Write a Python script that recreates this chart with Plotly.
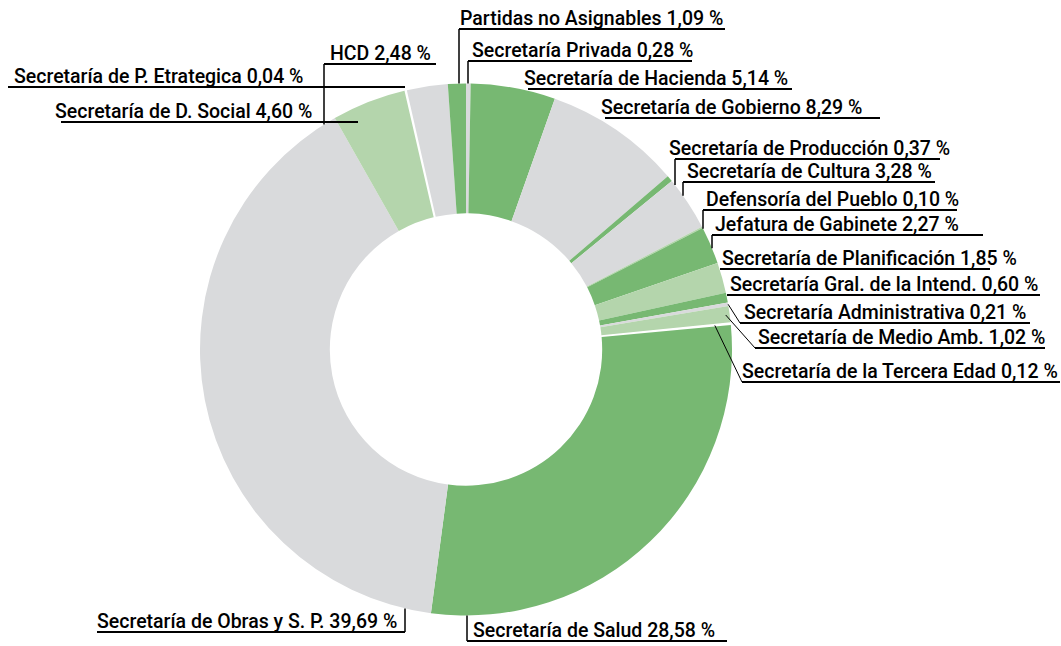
import math
import plotly.graph_objects as go

# ---------------- data ----------------
labels = [
    "Secretaría Privada", "Secretaría de Hacienda", "Secretaría de Gobierno",
    "Secretaría de Producción", "Secretaría de Cultura", "Defensoría del Pueblo",
    "Jefatura de Gabinete", "Secretaría de Planificación", "Secretaría Gral. de la Intend.",
    "Secretaría Administrativa", "Secretaría de Medio Amb.", "Secretaría de la Tercera Edad",
    "Secretaría de Salud", "Secretaría de Obras y S. P.", "Secretaría de D. Social",
    "Secretaría de P. Etrategica", "HCD", "Partidas no Asignables",
]
values = [0.28, 5.14, 8.29, 0.37, 3.28, 0.10, 2.27, 1.85, 0.60,
          0.21, 1.02, 0.12, 28.58, 39.69, 4.60, 0.04, 2.48, 1.09]

# ---------------- styles ----------------
GREEN, LIGHT, GRAY, WHITE = "#77b872", "#b4d5ac", "#d9dadc", "#ffffff"
colors = [GRAY, GREEN, GRAY, GREEN, GRAY, LIGHT, GREEN, LIGHT, GREEN,
          GRAY, LIGHT, WHITE, GREEN, GRAY, LIGHT, WHITE, GRAY, GREEN]
line_w = [0, 0, 0, 0, 0, 0, 0, 0, 0, 0, 0, 1.5, 0, 0, 0, 3.5, 0, 0]

W, H = 1061, 646
CX, CY, R = 466.0, 349.5, 266.0
HOLE = 0.512

# label layout (pixels): text left x, underline y, underline x0, x1, leader kind, leader radius
label_layout = [
    (471, 61, 468, 692, "v", 0),
    (523, 89, 528, 792, None, 0),
    (600, 118, 605, 880, None, 0),
    (668, 159, 675, 940, "v", 0),
    (686, 182, 683, 935, "v", 0),
    (705, 210, 703, 957, "v", 0),
    (714, 235, 712, 983, "v", 0),
    (721, 269, 720, 990, None, 0),
    (729, 295, 727, 1040, None, 0),
    (743, 323, 740, 1030, "p", 266),
    (757, 348, 755, 1045, "p", 262),
    (741, 382, 742, 1060, "p", 250),
    (472, 641, 467, 727, "v", 0),
    (96, 632, 97, 405, "v", 0),
    (54, 122, 61, 358, None, 0),
    (13, 87, 8, 405, None, 0),
    (329, 64, 324, 436, "v", 0),
    (459, 29, 459, 725, "v", 0),
]

FONT = dict(family="Roboto, Liberation Sans, sans-serif", size=19.5, color="#000000", weight=500)


def px(x):
    return x / W


def py(y):
    return 1 - y / H


fig = go.Figure(go.Pie(
    labels=labels, values=values, sort=False, direction="clockwise", rotation=0,
    hole=HOLE, textinfo="none", hoverinfo="none",
    marker=dict(colors=colors, line=dict(color=WHITE, width=line_w)),
    domain=dict(x=[px(CX - R), px(CX + R)], y=[py(CY + R), py(CY - R)]),
    showlegend=False,
))

total = sum(values)
cum = 0.0
shapes, annotations = [], []
for lab, v, (tx, uy, x0, x1, kind, lr) in zip(labels, values, label_layout):
    mid = (cum + v / 2) / total * 2 * math.pi
    cum += v
    num = f"{v:.2f}".replace(".", ",")
    txt = f"{lab} {num} %"
    annotations.append(dict(text=txt, x=px(tx), y=py(uy + 2), xref="paper", yref="paper",
                            xanchor="left", yanchor="bottom", showarrow=False,
                            font=FONT, borderpad=0))
    shapes.append(dict(type="line", xref="paper", yref="paper", x0=px(x0), x1=px(x1),
                       y0=py(uy), y1=py(uy), line=dict(color="black", width=2)))
    if kind == "v":
        xv = x0 if lab != "Secretaría de Obras y S. P." else x1
        dy = math.sqrt(max(R * R - (xv - CX) ** 2, 0))
        yc = CY - dy if uy < CY else CY + dy
        shapes.append(dict(type="line", xref="paper", yref="paper", x0=px(xv), x1=px(xv),
                           y0=py(uy), y1=py(yc), line=dict(color="black", width=1.5)))
    elif kind == "p":
        ex = CX + lr * math.sin(mid)
        ey = CY - lr * math.cos(mid)
        shapes.append(dict(type="line", xref="paper", yref="paper", x0=px(x0), x1=px(ex),
                           y0=py(uy), y1=py(ey), line=dict(color="black", width=1)))

fig.update_layout(width=W, height=H, margin=dict(l=0, r=0, t=0, b=0),
                  paper_bgcolor="white", plot_bgcolor="white",
                  shapes=shapes, annotations=annotations)

fig.write_html("out.html", config={"displayModeBar": False},
               post_script="document.body.style.margin='0px';")
